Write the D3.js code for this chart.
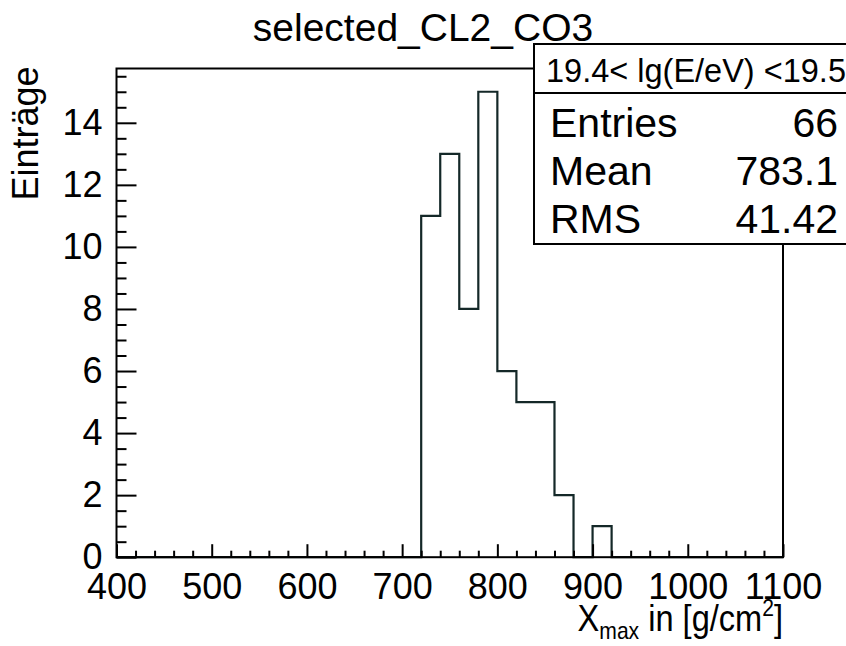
<!DOCTYPE html>
<html>
<head>
<meta charset="utf-8">
<script src="https://cdn.jsdelivr.net/npm/d3@7/dist/d3.min.js"></script>
<style>
  html, body { margin: 0; padding: 0; background: #fff; }
  svg { display: block; font-family: "Liberation Sans", Arial, Helvetica, sans-serif; }
</style>
</head>
<body>
<svg id="chart" width="846" height="646"></svg>
<script>
// Xmax histogram, 20 g/cm^2 bins (only bins from 720 onward are filled)
const binLowEdges = [720, 740, 760, 780, 800, 820, 840, 860, 880, 900];
const binCounts   = [11, 13, 8, 15, 6, 5, 5, 2, 0, 1];
const binWidth = 20;

const xRange = [400, 1100];
const xMajorTicks = [400, 500, 600, 700, 800, 900, 1000, 1100];
const yMajorTicks = [0, 2, 4, 6, 8, 10, 12, 14];

const titleText = "selected_CL2_CO3";
const statsTitle = "19.4< lg(E/eV) <19.5";
const statsLabels = ["Entries", "Mean", "RMS"];
const statsValues = ["66", "783.1", "41.42"];

const svg = d3.select("#chart");
const frame = { left: 116.5, right: 783, top: 68.5, bottom: 557.2 };

const yMax = d3.max(binCounts) * 1.05;
const x = d3.scaleLinear().domain(xRange).range([frame.left, frame.right]);
const y = d3.scaleLinear().domain([0, yMax]).range([frame.bottom, frame.top]);

const fg = "#000";
const tickFont = 36;

// histogram outline
const pts = [[xRange[0], 0], [binLowEdges[0], 0]];
binLowEdges.forEach((lo, i) => {
  pts.push([lo, binCounts[i]]);
  pts.push([lo + binWidth, binCounts[i]]);
});
pts.push([binLowEdges[binLowEdges.length - 1] + binWidth, 0]);
pts.push([xRange[1], 0]);

svg.append("path")
  .attr("d", d3.line().x(d => x(d[0])).y(d => y(d[1]))(pts))
  .attr("fill", "none")
  .attr("stroke", "#142828")
  .attr("stroke-width", 2.2)
  .attr("stroke-linejoin", "miter");

// frame
svg.append("rect")
  .attr("x", frame.left).attr("y", frame.top)
  .attr("width", frame.right - frame.left)
  .attr("height", frame.bottom - frame.top)
  .attr("fill", "none").attr("stroke", fg).attr("stroke-width", 2);

// x axis: major + minor ticks pointing into the frame
const xMinor = d3.range(xRange[0], xRange[1] + 1, 20).filter(v => v % 100 !== 0);
svg.append("g").attr("transform", `translate(0,${frame.bottom})`)
  .call(d3.axisBottom(x).tickValues(xMajorTicks).tickSize(-13).tickPadding(16).tickFormat(d3.format("d")));
svg.append("g").attr("transform", `translate(0,${frame.bottom})`)
  .call(d3.axisBottom(x).tickValues(xMinor).tickSize(-6.5).tickFormat(""));

// y axis
const yMinor = d3.range(0, yMax, 0.5).filter(v => v % 2 !== 0);
svg.append("g").attr("transform", `translate(${frame.left},0)`)
  .call(d3.axisLeft(y).tickValues(yMajorTicks).tickSize(-20).tickPadding(14).tickFormat(d3.format("d")));
svg.append("g").attr("transform", `translate(${frame.left},0)`)
  .call(d3.axisLeft(y).tickValues(yMinor).tickSize(-10).tickFormat(""));

svg.selectAll(".domain").remove();
svg.selectAll(".tick line").attr("stroke", fg).attr("stroke-width", 2);
svg.selectAll(".tick text")
  .attr("font-size", tickFont)
  .attr("font-family", "Liberation Sans, Arial, sans-serif")
  .attr("fill", fg);

// axis titles (x title slightly condensed, right-aligned to the frame)
const xt = svg.append("g")
  .attr("transform", `translate(${frame.right},631) scale(0.88,1)`)
  .append("text")
  .attr("text-anchor", "end").attr("font-size", 37).attr("fill", fg);
xt.append("tspan").text("X");
xt.append("tspan").attr("font-size", 24).attr("dy", 8).text("max");
xt.append("tspan").attr("dy", -8).text(" in [g/cm");
xt.append("tspan").attr("font-size", 24).attr("dy", -15).text("2");
xt.append("tspan").attr("dy", 15).text("]");

svg.append("text")
  .attr("transform", `translate(38,${frame.top - 2}) rotate(-90)`)
  .attr("text-anchor", "end").attr("font-size", 36).attr("fill", fg)
  .text("Einträge");

// title
svg.append("text")
  .attr("x", 423).attr("y", 41)
  .attr("text-anchor", "middle").attr("font-size", 39).attr("fill", fg)
  .text(titleText);

// statistics box
const sb = { x: 534, y: 44, w: 330, h: 200, div: 93 };
const gs = svg.append("g");
gs.append("rect")
  .attr("x", sb.x).attr("y", sb.y).attr("width", sb.w).attr("height", sb.h)
  .attr("fill", "#fff").attr("stroke", fg).attr("stroke-width", 2);
gs.append("line")
  .attr("x1", sb.x).attr("x2", sb.x + sb.w).attr("y1", sb.div).attr("y2", sb.div)
  .attr("stroke", fg).attr("stroke-width", 2);
gs.append("text")
  .attr("x", 696).attr("y", 82).attr("text-anchor", "middle")
  .attr("font-size", 32.5).attr("fill", fg).text(statsTitle);
statsLabels.forEach((lab, i) => {
  const by = 137 + i * 48;
  gs.append("text").attr("x", 550).attr("y", by)
    .attr("font-size", 41).attr("fill", fg).text(lab);
  gs.append("text").attr("x", 838).attr("y", by).attr("text-anchor", "end")
    .attr("font-size", 41).attr("fill", fg).text(statsValues[i]);
});
</script>
</body>
</html>
